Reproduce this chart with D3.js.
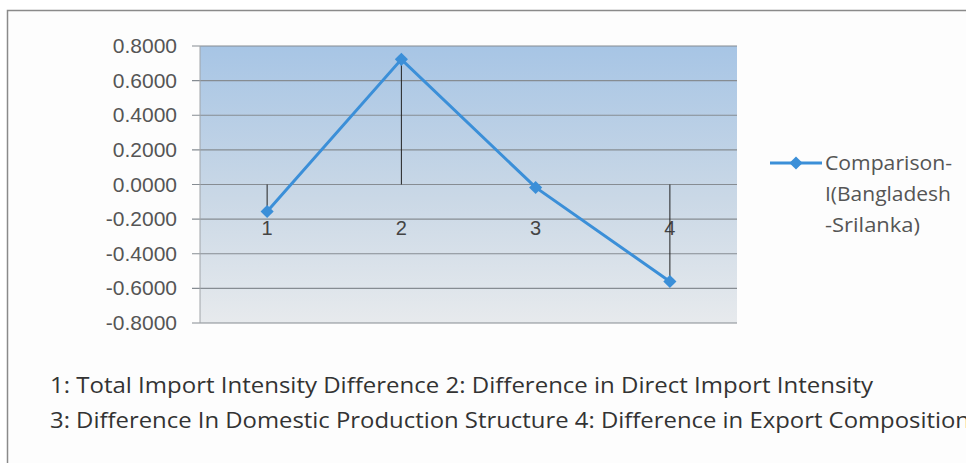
<!DOCTYPE html>
<html><head><meta charset="utf-8">
<script src="https://cdn.jsdelivr.net/npm/d3@7"></script>
<style>body{margin:0;background:#fff}svg{display:block}</style>
</head><body>
<script>
const categories = ["1","2","3","4"];
const values = [-0.156, 0.723, -0.017, -0.560];
const yTicks = [0.8,0.6,0.4,0.2,0,-0.2,-0.4,-0.6,-0.8];
const seriesName = ["Comparison-","I(Bangladesh","-Srilanka)"];
const notes = ["1: Total Import Intensity Difference 2: Difference in Direct Import Intensity",
               "3: Difference In Domestic Production Structure 4: Difference in Export Composition"];

const W=966,H=463;
const svg=d3.select("body").append("svg").attr("width",W).attr("height",H);
svg.append("rect").attr("x",0).attr("y",0).attr("width",W).attr("height",H).attr("fill","#fff");
// frame
svg.append("rect").attr("x",7.5).attr("y",10.5).attr("width",W+10).attr("height",H+10)
  .attr("fill","#fdfdfd").attr("stroke","#8a8a8a").attr("stroke-width",1.5);

const L=200,R=737,T=46,B=323;
const x=d3.scaleBand().domain(categories).range([L,R]);
const y=d3.scaleLinear().domain([-0.8,0.8]).range([B,T]);

const defs=svg.append("defs");
const g=defs.append("linearGradient").attr("id","bg").attr("x1",0).attr("y1",0).attr("x2",0).attr("y2",1);
g.append("stop").attr("offset","0%").attr("stop-color","#a7c5e5");
g.append("stop").attr("offset","55%").attr("stop-color","#cad8e6");
g.append("stop").attr("offset","100%").attr("stop-color","#e7eaed");
svg.append("rect").attr("x",L).attr("y",T).attr("width",R-L).attr("height",B-T).attr("fill","url(#bg)");

// gridlines
svg.append("g").selectAll("line").data(yTicks).join("line")
  .attr("x1",L-8).attr("x2",R).attr("y1",d=>y(d)).attr("y2",d=>y(d))
  .attr("stroke","#868c92").attr("stroke-width",1.2);
svg.append("line").attr("x1",L).attr("x2",L).attr("y1",T).attr("y2",B).attr("stroke","#a0a4a8");

// y labels
svg.append("g").selectAll("text").data(yTicks).join("text")
  .attr("x",177).attr("y",d=>y(d)+7).attr("text-anchor","end")
  .attr("font-family","Liberation Sans, Arial, sans-serif").attr("font-size",21)
  .attr("fill","#555").text(d=>d.toFixed(4));

// category labels
svg.append("g").selectAll("text").data(categories).join("text")
  .attr("x",d=>x(d)+x.bandwidth()/2).attr("y",y(0)+50)
  .attr("text-anchor","middle").attr("font-family","Liberation Sans, Arial, sans-serif")
  .attr("font-size",20).attr("fill","#444").text(d=>d);

// drop lines
svg.append("g").selectAll("line").data(values).join("line")
  .attr("x1",(d,i)=>x(categories[i])+x.bandwidth()/2).attr("x2",(d,i)=>x(categories[i])+x.bandwidth()/2)
  .attr("y1",y(0)).attr("y2",d=>y(d)).attr("stroke","#222").attr("stroke-width",1);

// line
const line=d3.line().x((d,i)=>x(categories[i])+x.bandwidth()/2).y(d=>y(d));
svg.append("path").datum(values).attr("d",line).attr("fill","none")
  .attr("stroke","#3b8fd8").attr("stroke-width",3);
const diamond=d3.symbol().type(d3.symbolDiamond2).size(110);
svg.append("g").selectAll("path").data(values).join("path")
  .attr("transform",(d,i)=>`translate(${x(categories[i])+x.bandwidth()/2},${y(d)})`)
  .attr("d",diamond).attr("fill","#3b8fd8");

// legend
svg.append("line").attr("x1",770).attr("x2",822).attr("y1",163).attr("y2",163)
  .attr("stroke","#3b8fd8").attr("stroke-width",3);
svg.append("path").attr("transform","translate(796,163)").attr("d",diamond).attr("fill","#3b8fd8");
svg.append("g").selectAll("text").data(seriesName).join("text")
  .attr("x",825).attr("y",(d,i)=>170+i*31).attr("font-family","Open Sans, sans-serif")
  .attr("font-size",20).attr("fill","#555")
  .attr("textLength",(d,i)=>[127,126,95][i]).attr("lengthAdjust","spacingAndGlyphs").text(d=>d);

// notes
svg.append("g").selectAll("text").data(notes).join("text")
  .attr("x",50).attr("y",(d,i)=>393+i*35).attr("font-family","Open Sans, sans-serif")
  .attr("font-size",21).attr("fill","#333")
  .attr("textLength",(d,i)=>i===0?823:920).attr("lengthAdjust","spacingAndGlyphs").text(d=>d);
</script>
</body></html>
